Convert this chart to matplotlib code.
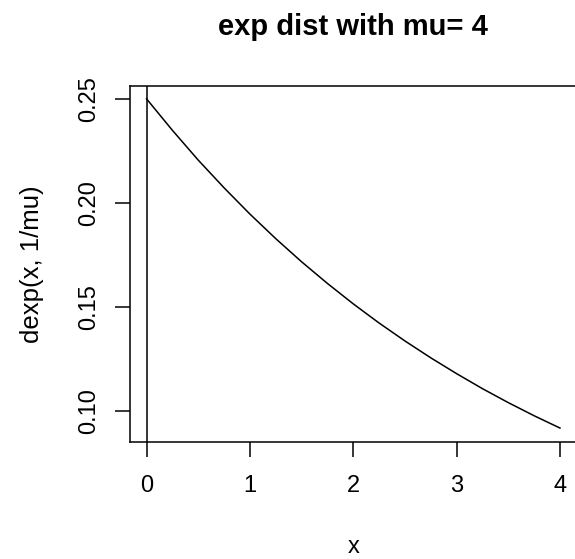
import matplotlib
matplotlib.use("Agg")
import matplotlib.pyplot as plt

plt.rcParams['font.family'] = ['Liberation Sans', 'DejaVu Sans']

# density values
x_vals = [0.0, 0.25, 0.5, 0.75, 1.0, 1.25, 1.5, 1.75, 2.0,
          2.25, 2.5, 2.75, 3.0, 3.25, 3.5, 3.75, 4.0]
y_vals = [0.2500, 0.2349, 0.2206, 0.2073, 0.1947, 0.1829, 0.1718, 0.1614, 0.1516,
          0.1424, 0.1338, 0.1257, 0.1181, 0.1109, 0.1042, 0.0979, 0.0920]
x_ticks = [0, 1, 2, 3, 4]
y_ticks = [0.10, 0.15, 0.20, 0.25]
y_tick_labels = ["0.10", "0.15", "0.20", "0.25"]

W, H = 575, 559
fig = plt.figure(figsize=(W / 100, H / 100), dpi=100)
# plot region: left 130px, right runs just past the image edge
left, right, top, bottom = 130, 576.5, 85.7, 442
ax = fig.add_axes([left / W, 1 - bottom / H, (right - left) / W, (bottom - top) / H])

ax.plot(x_vals, y_vals, color='black', lw=1.1)
ax.axvline(0, color='black', lw=1.1)

ax.set_xlim(-0.16, 4.16)
ax.set_ylim(0.0853, 0.2563)
for s in ax.spines.values():
    s.set_linewidth(1.1)

ax.set_xticks(x_ticks)
ax.set_yticks(y_ticks)
ax.set_yticklabels(y_tick_labels, rotation=90, va='center')
ax.tick_params(length=10.8, width=1.1, labelsize=17, pad=13)
ax.tick_params(axis='y', pad=11)

ax.set_ylabel("dexp(x, 1/mu)", fontsize=18.5, labelpad=24)
# x label sits right at the bottom edge, as in the reference
fig.text((left + right) / 2 / W, 1 - 553 / H, "x",
         ha='center', va='baseline', fontsize=17)
fig.text((left + right) / 2 / W, 1 - 35 / H, "exp dist with mu= 4",
         ha='center', va='baseline', fontsize=21, fontweight='bold')

fig.savefig("out.png", dpi=100)
